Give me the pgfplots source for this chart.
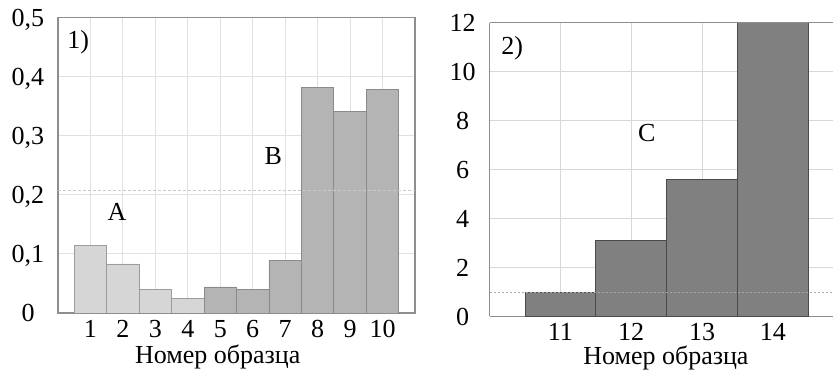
\documentclass[border=0pt]{standalone}
\usepackage{pgfplots}
\pgfplotsset{compat=1.18}
\usepackage{fontspec}
\setmainfont{Liberation Serif}
\definecolor{gridc}{HTML}{E0E0E0}
\definecolor{gridd}{HTML}{D8D8D8}
\definecolor{framec}{HTML}{8E8E8E}
\definecolor{barA}{HTML}{D6D6D6}
\definecolor{edgeA}{HTML}{9C9C9C}
\definecolor{barB}{HTML}{B4B4B4}
\definecolor{edgeB}{HTML}{8A8A8A}
\definecolor{barC}{HTML}{808080}
\definecolor{edgeC}{HTML}{4A4A4A}
\begin{document}
\begin{tikzpicture}
\pgfplotsset{
  /pgf/number format/assume math mode=true,
  every axis/.append style={font=\rmfamily\fontsize{26}{30}\selectfont},
  myax/.style={
    scale only axis, anchor=south west,
    major tick length=0pt,
    grid=major, grid style={gridc, line width=1pt},
    tick label style={font=\rmfamily\fontsize{26}{30}\selectfont},
    xticklabel style={anchor=base, yshift=-24.5pt},
    yticklabel style={anchor=base, yshift=-8.8pt},
  },
}
\begin{axis}[myax, at={(58pt,58pt)}, width=357pt, height=295.5pt,
  xmin=0, xmax=11, ymin=0, ymax=0.5,
  axis line style={framec, line width=1.3pt},
  xtick={1,2,3,4,5,6,7,8,9,10},
  ytick={0,0.1,0.2,0.3,0.4,0.5},
  yticklabels={0,{0,1},{0,2},{0,3},{0,4},{0,5}},
  yticklabel style={xshift=-30pt},
  xlabel={Номер образца},
  xlabel style={at={(axis cs:4.92,0)}, anchor=base, yshift=-51pt},
]
\addplot[ybar, bar width=1, bar shift=0pt, fill=barA, draw=edgeA, line width=0.8pt]
  coordinates {(1,0.114) (2,0.083) (3,0.040) (4,0.025)};
\addplot[ybar, bar width=1, bar shift=0pt, fill=barB, draw=edgeB, line width=0.8pt]
  coordinates {(5,0.044) (6,0.040) (7,0.089) (8,0.381) (9,0.341) (10,0.379)};
\addplot[color=gridc!90!black, dash pattern=on 3pt off 2pt, line width=1.1pt]
  coordinates {(0,0.207) (11,0.207)};
\node at (axis cs:0.62,0.458) {1)};
\node at (axis cs:1.82,0.171) {A};
\node at (axis cs:6.63,0.266) {B};
\end{axis}
\begin{axis}[myax, at={(489.6pt,54.5pt)}, width=343.4pt, height=293.8pt,
  xmin=10, xmax=14.85, ymin=0, ymax=12, clip=false,
  grid style={gridd, line width=1pt},
  axis x line*=bottom, axis y line*=left,
  axis line style={-, framec, line width=1.3pt},
  xtick={11,12,13,14},
  ytick={0,2,4,6,8,10,12},
  yticklabel style={xshift=-27pt},
  xlabel={Номер образца},
  xlabel style={at={(axis cs:12.49,0)}, anchor=base, yshift=-48.5pt},
]
\addplot[ybar, bar width=1, bar shift=0pt, fill=barC, draw=edgeC, line width=1pt]
  coordinates {(11,1.0) (12,3.1) (13,5.6) (14,12)};
\addplot[color=gray!70, dash pattern=on 2pt off 2pt, line width=1.1pt]
  coordinates {(10,0.97) (14.85,0.97)};
\draw[framec, line width=1.3pt] (rel axis cs:0,1) -- (rel axis cs:1,1);
\node at (axis cs:10.32,10.97) {2)};
\node at (axis cs:12.22,7.5) {C};
\end{axis}
\pgfresetboundingbox
\path[use as bounding box] (0,0) rectangle (833pt,371pt);
\end{tikzpicture}
\end{document}
